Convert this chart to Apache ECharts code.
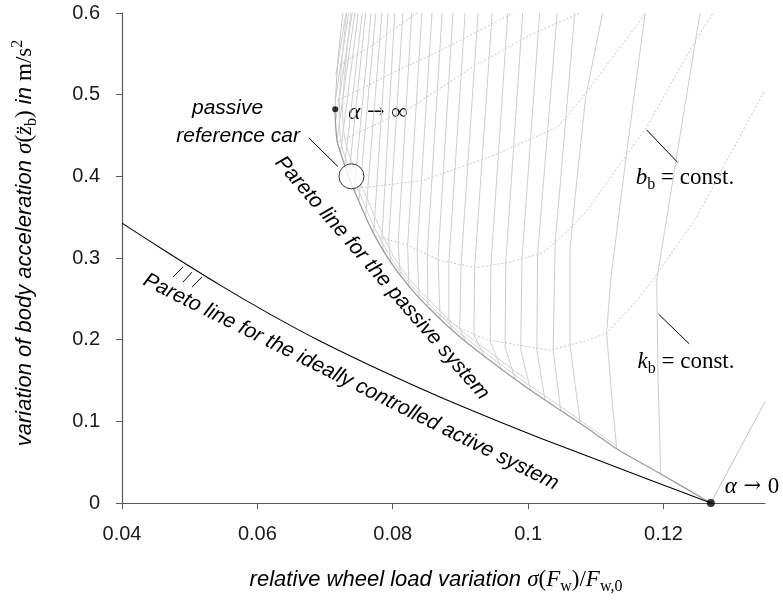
<!DOCTYPE html>
<html>
<head>
<meta charset="utf-8">
<script src="https://cdn.jsdelivr.net/npm/echarts@6/dist/echarts.min.js"></script>
<style>
  html, body { margin: 0; padding: 0; background: #fff; }
  #chart { width: 783px; height: 600px; }
</style>
</head>
<body>
<div id="chart"></div>
<script>
const SANS = '"Liberation Sans", Arial, sans-serif'
const SERIF = '"Liberation Serif", "DejaVu Serif", serif'
const ARROW = '"DejaVu Serif", "Liberation Serif", serif'

const xTicks = [0.04, 0.06, 0.08, 0.1, 0.12]
const yTicks = [0, 0.1, 0.2, 0.3, 0.4, 0.5, 0.6]

// Pareto line for the ideally controlled active system
const activePareto = [
  [0.04, 0.3427], [0.04709, 0.3048], [0.05448, 0.2668], [0.06186, 0.2313],
  [0.06925, 0.1983], [0.07811, 0.1628], [0.08697, 0.1297], [0.09584, 0.0991],
  [0.10174, 0.0796], [0.10913, 0.0563], [0.11799, 0.0282], [0.1270, 0]
]

// Pareto line for the passive system (lower-left edge of the mesh)
const passivePareto = [
  [0.07146, 0.4823], [0.07176, 0.4443], [0.07264, 0.4198], [0.07368, 0.3953],
  [0.07486, 0.3721], [0.07693, 0.3341], [0.07929, 0.2999], [0.08225, 0.2668],
  [0.08579, 0.2350], [0.08993, 0.2032], [0.09465, 0.1726], [0.09968, 0.1420],
  [0.10470, 0.1138], [0.10913, 0.0894], [0.11312, 0.0661], [0.11962, 0.0355],
  [0.1270, 0]
]
const meshEdgeTop = [[0.07264, 0.6], [0.07191, 0.5422], [0.07146, 0.4823]]
const kbZeroLine = [[0.1270, 0], [0.1350, 0.124]]

// k_b = const. (solid grey), upper branches ending on the passive Pareto line
const kbLines = [
  [[0.1254, 0.6], [0.1221, 0.432], [0.1190, 0.273], [0.1192, 0.151], [0.1196, 0.0355]],
  [[0.1173, 0.6], [0.1146, 0.432], [0.1122, 0.273], [0.1116, 0.208], [0.1124, 0.126], [0.1131, 0.066]],
  [[0.1110, 0.6], [0.1085, 0.497], [0.1069, 0.371], [0.1062, 0.310], [0.1062, 0.192], [0.1077, 0.098]],
  [[0.1069, 0.6], [0.1040, 0.318], [0.1037, 0.187], [0.1048, 0.114]],
  [[0.1043, 0.6], [0.1014, 0.304], [0.1013, 0.187], [0.1025, 0.126]],
  [[0.1017, 0.6], [0.0991, 0.299], [0.0989, 0.188], [0.1004, 0.137]],
  [[0.0992, 0.6], [0.0967, 0.294], [0.0966, 0.191], [0.0981, 0.151]],
  [[0.0970, 0.6], [0.0945, 0.290], [0.0944, 0.198], [0.0961, 0.163]],
  [[0.0947, 0.6], [0.0921, 0.288], [0.0920, 0.206], [0.0936, 0.179]],
  [[0.0926, 0.6], [0.0901, 0.293], [0.0899, 0.214], [0.0908, 0.197]],
  [[0.0907, 0.6], [0.0883, 0.295], [0.0883, 0.223], [0.0888, 0.212]],
  [[0.0889, 0.6], [0.0867, 0.299], [0.0870, 0.226]],
  [[0.0873, 0.6], [0.0851, 0.305], [0.0852, 0.241]],
  [[0.0858, 0.6], [0.0836, 0.310], [0.0839, 0.251]],
  [[0.0843, 0.6], [0.0822, 0.315], [0.0824, 0.264]],
  [[0.0828, 0.6], [0.0808, 0.318], [0.0811, 0.279]],
  [[0.0815, 0.6], [0.0794, 0.322], [0.0797, 0.294]],
  [[0.0803, 0.6], [0.0784, 0.324], [0.0786, 0.310]],
  [[0.0793, 0.6], [0.0772, 0.332]],
  [[0.0784, 0.6], [0.0760, 0.352]],
  [[0.0775, 0.6], [0.0750, 0.371]],
  [[0.0768, 0.6], [0.0743, 0.383]],
  [[0.0760, 0.6], [0.0735, 0.399]],
  [[0.0755, 0.6], [0.0729, 0.414]],
  [[0.0749, 0.6], [0.0723, 0.430]],
  [[0.0744, 0.6], [0.0718, 0.447]],
  [[0.0740, 0.6], [0.0716, 0.469]],
  [[0.0735, 0.6], [0.0715, 0.493]],
  [[0.0731, 0.6], [0.0716, 0.524]]
]

// k_b = const. return branches hugging the passive Pareto line
const kbReturnLines = [
  [[0.1131, 0.0698], [0.1091, 0.0930], [0.1047, 0.1187], [0.0997, 0.1469], [0.0947, 0.1775],
   [0.0899, 0.2081], [0.0858, 0.2399], [0.0822, 0.2717], [0.0794, 0.3048], [0.0772, 0.3390],
   [0.0753, 0.3758], [0.0741, 0.3990], [0.0731, 0.4198], [0.0723, 0.4443], [0.0721, 0.4823],
   [0.0725, 0.5422], [0.0732, 0.6]],
  [[0.0997, 0.1518], [0.0947, 0.1824], [0.0899, 0.2130], [0.0858, 0.2448], [0.0822, 0.2766],
   [0.0797, 0.3084], [0.0777, 0.3439], [0.0759, 0.3794], [0.0747, 0.4027], [0.0737, 0.4235],
   [0.0729, 0.4468], [0.0726, 0.4823], [0.0731, 0.5422], [0.0738, 0.6]]
]

// b_b = const. (dotted grey)
const bbLines = [
  [[0.0721, 0.536], [0.0744, 0.548], [0.0766, 0.558], [0.0803, 0.581], [0.0836, 0.6]],
  [[0.0718, 0.493], [0.0741, 0.502], [0.0803, 0.528], [0.0870, 0.554], [0.0929, 0.579], [0.0978, 0.6]],
  [[0.0719, 0.442], [0.0747, 0.453], [0.0821, 0.481], [0.0918, 0.534], [0.1003, 0.573], [0.1077, 0.6]],
  [[0.0741, 0.386], [0.0766, 0.387], [0.0845, 0.395], [0.0944, 0.424], [0.1043, 0.460], [0.1077, 0.493],
   [0.1125, 0.546], [0.1174, 0.6]],
  [[0.0774, 0.327], [0.0821, 0.316], [0.0870, 0.297], [0.0924, 0.288], [0.0973, 0.295], [0.1022, 0.306],
   [0.1057, 0.332], [0.1084, 0.355], [0.1175, 0.460], [0.1239, 0.554], [0.1273, 0.6]],
  [[0.0855, 0.239], [0.0899, 0.214], [0.0939, 0.200], [0.1032, 0.187], [0.1091, 0.200], [0.1116, 0.208],
   [0.1161, 0.248], [0.1184, 0.273], [0.1249, 0.350], [0.1298, 0.426], [0.1350, 0.506]]
]

const hatchMarks = [
  [[0.04753, 0.2766], [0.04901, 0.2889]],
  [[0.04901, 0.2705], [0.05034, 0.2827]],
  [[0.05034, 0.2644], [0.05182, 0.2766]]
]
const leaders = [
  [[0.0676, 0.447], [0.0719, 0.412]],
  [[0.1175, 0.457], [0.1221, 0.417]],
  [[0.1193, 0.231], [0.1238, 0.195]]
]
const refCar = [0.0739, 0.400]
const alphaInf = [0.0715, 0.482]
const alphaZero = [0.1270, 0]

const makeRich = (size, mathSize) => ({
  t: { fontFamily: SANS, fontStyle: 'italic', fontSize: size, lineHeight: 30, color: '#000' },
  m: { fontFamily: SERIF, fontStyle: 'italic', fontSize: mathSize, lineHeight: 30, color: '#000' },
  u: { fontFamily: SERIF, fontSize: mathSize, lineHeight: 30, color: '#000' },
  a: { fontFamily: ARROW, fontSize: mathSize - 2, lineHeight: 30, color: '#000' },
  s: { fontFamily: SERIF, fontSize: Math.round(mathSize * 0.68), lineHeight: 15, verticalAlign: 'bottom', color: '#000' },
  p: { fontFamily: SERIF, fontSize: Math.round(mathSize * 0.68), lineHeight: 15, verticalAlign: 'top', color: '#000' }
})
const titleRich = makeRich(22, 23)
const noteRich = makeRich(21, 23)

const line = (data, color, width, type, z, smooth) => ({
  type: 'line', data, symbol: 'none', silent: true, z,
  smooth: smooth || false,
  lineStyle: { color, width, type }
})

const label = (x, y, text, rich, rotation, align) => ({
  type: 'text', x, y, rotation: rotation || 0, silent: true,
  style: { text, rich, align: align || 'center', verticalAlign: 'middle' }
})

const deg = Math.PI / 180

const chart = echarts.init(document.getElementById('chart'), null, { renderer: 'canvas' })

chart.setOption({
  animation: false,
  grid: { left: 122, right: 18, top: 13, bottom: 97 },
  xAxis: {
    type: 'value', min: 0.04, max: 0.135, interval: 0.02,
    axisLine: { onZero: false, lineStyle: { color: '#5a5a5a', width: 1.2 } },
    axisTick: { length: 6, customValues: xTicks, lineStyle: { color: '#5a5a5a' } },
    axisLabel: {
      customValues: xTicks, margin: 21, fontSize: 20, fontFamily: SANS, color: '#1a1a1a',
      formatter: v => String(+v.toFixed(2))
    },
    splitLine: { show: false }
  },
  yAxis: {
    type: 'value', min: 0, max: 0.6, interval: 0.1,
    axisLine: { show: true, onZero: false, lineStyle: { color: '#5a5a5a', width: 1.2 } },
    axisTick: { show: true, length: 6, customValues: yTicks, lineStyle: { color: '#5a5a5a' } },
    axisLabel: {
      customValues: yTicks, margin: 22, fontSize: 20, fontFamily: SANS, color: '#1a1a1a',
      formatter: v => String(+v.toFixed(1))
    },
    splitLine: { show: false }
  },
  series: [
    ...kbLines.map(d => line(d, '#cdcdcd', 1, 'solid', 1)),
    ...kbReturnLines.map(d => line(d, '#d2d2d2', 1, 'solid', 1, 0.3)),
    ...bbLines.map(d => line(d, '#c6c6c6', 1, [2, 2], 1)),
    line(meshEdgeTop, '#c4c4c4', 1, 'solid', 1, 0.3),
    line(kbZeroLine, '#c4c4c4', 1, 'solid', 1),
    line(passivePareto, '#9c9c9c', 1.3, 'solid', 2, 0.25),
    line(activePareto, '#000', 1.1, 'solid', 3, 0.25),
    ...hatchMarks.map(d => line(d, '#000', 1, 'solid', 3)),
    ...leaders.map(d => line(d, '#000', 1, 'solid', 3)),
    {
      type: 'scatter', data: [refCar], symbolSize: 25, silent: true, z: 5,
      itemStyle: { color: '#fff', borderColor: '#000', borderWidth: 1 }
    },
    {
      type: 'scatter', data: [alphaInf], symbolSize: 6, silent: true, z: 5,
      itemStyle: { color: '#000' }
    },
    {
      type: 'scatter', data: [alphaZero], symbolSize: 8, silent: true, z: 5,
      itemStyle: { color: '#000' }
    }
  ],
  graphic: [
    label(436, 580, '{t|relative wheel load variation }{m|σ}{u|(}{m|F}{s|w}{u|)/}{m|F}{s|w,0}', titleRich),
    label(25, 243, '{t|variation of body acceleration }{m|σ}{u|(}{m|z̈}{s|b}{u|)}{t| in }{u|m/s}{p|2}', titleRich, 90 * deg),
    label(192, 108, '{t|passive}', noteRich, 0, 'left'),
    label(300, 136, '{t|reference car}', noteRich, 0, 'right'),
    label(378, 113, '{m|α}{a| → }{u|∞}', noteRich),
    label(752, 487, '{m|α}{a| → }{u|0}', noteRich),
    label(685, 178, '{m|b}{s|b}{u| = const.}', noteRich),
    label(686, 362, '{m|k}{s|b}{u| = const.}', noteRich),
    label(382, 278, '{t|Pareto line for the passive system}', noteRich, -49 * deg),
    label(351, 382, '{t|Pareto line for the ideally controlled active system}', noteRich, -26.5 * deg)
  ]
})
</script>
</body>
</html>
